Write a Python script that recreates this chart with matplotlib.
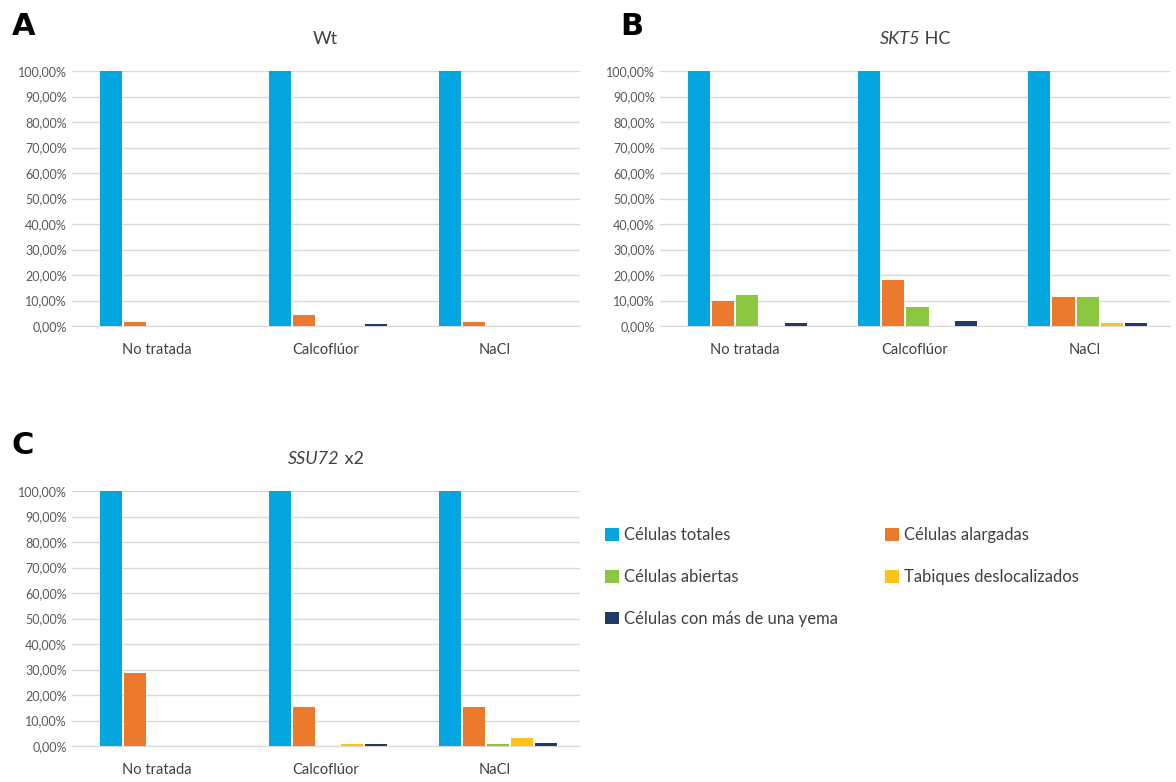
import numpy as np
import matplotlib.pyplot as plt
from matplotlib.ticker import FuncFormatter

plt.rcParams['font.family'] = ['Lato', 'DejaVu Sans']

categories = ['No tratada', 'Calcoflúor', 'NaCl']
series = ['Células totales', 'Células alargadas', 'Células abiertas',
          'Tabiques deslocalizados', 'Células con más de una yema']
colors = ['#04A6E0', '#EC7A2C', '#8CC63F', '#FFC21A', '#1F3B66']

# values in %, per series, per category
wt_totales = [100, 100, 100]
wt_alargadas = [1.5, 4.2, 1.5]
wt_abiertas = [0, 0, 0]
wt_tabiques = [0, 0, 0]
wt_yema = [0, 0.7, 0]

skt5_totales = [100, 100, 100]
skt5_alargadas = [10.0, 18.2, 11.5]
skt5_abiertas = [12.2, 7.5, 11.5]
skt5_tabiques = [0, 0, 1.3]
skt5_yema = [1.3, 2.0, 1.3]

ssu72_totales = [100, 100, 100]
ssu72_alargadas = [28.8, 15.5, 15.5]
ssu72_abiertas = [0, 0, 0.6]
ssu72_tabiques = [0, 0.8, 3.0]
ssu72_yema = [0, 0.8, 1.2]

# title = (italic part, plain part)
panels = [
    ('A', ('', 'Wt'), [wt_totales, wt_alargadas, wt_abiertas, wt_tabiques, wt_yema]),
    ('B', ('SKT5', ' HC'), [skt5_totales, skt5_alargadas, skt5_abiertas, skt5_tabiques, skt5_yema]),
    ('C', ('SSU72', ' x2'), [ssu72_totales, ssu72_alargadas, ssu72_abiertas, ssu72_tabiques, ssu72_yema]),
]
positions = [
    [0.061, 0.583, 0.432, 0.326],
    [0.561, 0.583, 0.434, 0.326],
    [0.061, 0.046, 0.432, 0.326],
]
letter_pos = [(0.010, 0.955), (0.527, 0.955), (0.010, 0.420)]

fig = plt.figure(figsize=(11.76, 7.82), dpi=100)
renderer = fig.canvas.get_renderer()

x = np.arange(len(categories))
width = 0.13
step = 0.142
handles = None
for (letter, (t_it, t_rm), vals), pos, lp in zip(panels, positions, letter_pos):
    ax = fig.add_axes(pos)
    bars = []
    for k, (v, c) in enumerate(zip(vals, colors)):
        b = ax.bar(x + (k - 2) * step + 0.015, v, width, color=c, label=series[k], zorder=3)
        bars.append(b)
    handles = bars
    ax.set_xlim(-0.5, 2.5)
    ax.set_ylim(0, 100)
    ax.set_yticks(np.arange(0, 101, 10))
    ax.yaxis.set_major_formatter(FuncFormatter(lambda v, p: f'{v:.2f}%'.replace('.', ',')))
    ax.grid(axis='y', color='#D9D9D9', linewidth=1, zorder=0)
    for s in ['top', 'right', 'left']:
        ax.spines[s].set_visible(False)
    ax.spines['bottom'].set_color('#D9D9D9')
    ax.set_xticks(x)
    ax.set_xticklabels(categories)
    ax.tick_params(axis='both', length=0, labelsize=9, colors='#595959')
    ax.tick_params(axis='x', pad=12, labelsize=10.5, colors='#404040')

    # title: italic gene name + plain suffix, centred together
    ty = 1.105
    ti = ax.text(0, ty, t_it, transform=ax.transAxes, fontsize=13,
                 style='italic', color='#404040', va='baseline')
    tr = ax.text(0, ty, t_rm, transform=ax.transAxes, fontsize=13,
                 color='#404040', va='baseline')
    ax_w = ax.get_window_extent(renderer).width
    wi = ti.get_window_extent(renderer).width / ax_w if t_it else 0
    wr = tr.get_window_extent(renderer).width / ax_w
    x0 = 0.5 - (wi + wr) / 2
    ti.set_x(x0)
    tr.set_x(x0 + wi)

    fig.text(lp[0], lp[1], letter, fontsize=22, fontweight='bold', family='DejaVu Sans')

leg_kw = dict(frameon=False, fontsize=12, handlelength=0.8, handleheight=0.8,
              handletextpad=0.3, labelspacing=1.55, loc='upper left',
              labelcolor='#404040')
fig.legend([handles[0], handles[2], handles[4]],
           [series[0], series[2], series[4]], bbox_to_anchor=(0.502, 0.345), **leg_kw)
fig.legend([handles[1], handles[3]],
           [series[1], series[3]], bbox_to_anchor=(0.740, 0.345), **leg_kw)

fig.savefig('out.png', dpi=100)
